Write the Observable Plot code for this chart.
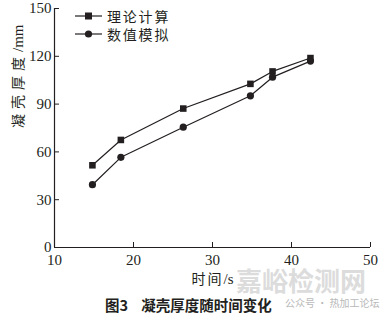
<!DOCTYPE html>
<html><head><meta charset="utf-8">
<script src="https://cdn.jsdelivr.net/npm/d3@7"></script>
<script src="https://cdn.jsdelivr.net/npm/@observablehq/plot@0.6"></script>
<style>
body{margin:0;background:#fff;}
#wrap{position:relative;width:384px;height:317px;overflow:hidden;font-family:"Liberation Serif","DejaVu Serif",serif;color:#231f20;}
#legend{position:absolute;left:75px;top:7px;font-family:"Noto Sans CJK SC",sans-serif;font-size:14px;letter-spacing:1.8px;line-height:18px;}
#legend div{display:flex;align-items:center;height:18px;}
#caption{position:absolute;left:105px;top:294px;font-family:"Noto Sans CJK SC",sans-serif;font-weight:bold;font-size:14.5px;white-space:pre;color:#231f20;}
#wm{position:absolute;left:236px;top:267px;font-family:"Noto Sans CJK SC",sans-serif;font-weight:bold;font-size:26px;line-height:26px;color:#dcdcdc;white-space:nowrap;}
#wm2{position:absolute;left:285px;top:297px;font-family:"Noto Sans CJK SC",sans-serif;font-size:10px;line-height:11px;color:#b8b8b8;white-space:nowrap;}
#chart{position:absolute;left:0;top:0;}
svg text.num{font-family:"Liberation Serif","DejaVu Serif",serif !important;}
</style></head>
<body><div id="wrap">
<div id="wm">嘉峪检测网</div>
<div id="wm2">公众号 · 热加工论坛</div>
<div id="chart"></div>
<div id="legend"></div>
<div id="caption"></div>
</div>
<script>
const time = [14.8, 18.4, 26.3, 34.8, 37.6, 42.4];
const theory = [51.6, 67.5, 87.2, 102.7, 110.5, 118.9];
const simulation = [39.4, 56.6, 75.5, 95.2, 106.9, 117.0];
const seriesNames = ["理论计算", "数值模拟"];
const xTicks = [10, 20, 30, 40, 50];
const yTicks = [0, 30, 60, 90, 120, 150];
const xLabelMain = "时间", xLabelUnit = "/s";
const yLabelMain = "凝壳厚度", yLabelUnit = "/mm";
const captionText = "图3    凝壳厚度随时间变化";

const ink = "#231f20";
const serif = "Liberation Serif, DejaVu Serif, serif";
const cjk = "Noto Sans CJK SC, sans-serif";
const data = [
  ...time.map((t, i) => ({t, v: theory[i], s: seriesNames[0]})),
  ...time.map((t, i) => ({t, v: simulation[i], s: seriesNames[1]}))
];

const plot = Plot.plot({
  width: 384,
  height: 293,
  marginLeft: 54,
  marginRight: 14,
  marginTop: 8,
  marginBottom: 46,
  style: {fontFamily: serif, fontSize: "15px", color: ink, background: "transparent"},
  x: {domain: [10, 50]},
  y: {domain: [0, 150]},
  marks: [
    Plot.axisX({ticks: xTicks, tickSize: -5, tickPadding: 12, tickFormat: d => d, stroke: ink, fill: ink, fontSize: 15, label: null, className: "xax"}),
    Plot.axisY({ticks: yTicks, tickSize: -5, tickPadding: 8, tickFormat: d => d, stroke: ink, fill: ink, fontSize: 15, label: null, className: "yax"}),
    Plot.ruleX([10], {stroke: ink, strokeWidth: 1.2}),
    Plot.ruleY([0], {stroke: ink, strokeWidth: 1.2}),
    Plot.line(data, {x: "t", y: "v", z: "s", stroke: ink, strokeWidth: 1.2}),
    Plot.dot(data.filter(d => d.s === seriesNames[0]), {x: "t", y: "v", symbol: "square", r: 3.7, fill: ink, stroke: "none"}),
    Plot.dot(data.filter(d => d.s === seriesNames[1]), {x: "t", y: "v", symbol: "circle", r: 3.6, fill: ink, stroke: "none"}),
    Plot.text([xLabelMain], {frameAnchor: "bottom", dy: 36, text: d => d, fontSize: 14, fill: ink, className: "xlab"}),
    Plot.text([yLabelMain], {frameAnchor: "left", dx: -36, rotate: -90, text: d => d, fontSize: 14, fill: ink, className: "ylab"})
  ]
});
const svg = d3.select(plot);
svg.selectAll("text").classed("num", true);
function twoPart(sel, main, unit, spacing) {
  sel.each(function() {
    const t = d3.select(this);
    t.classed("num", false).text(null);
    t.append("tspan").style("font-family", cjk).style("letter-spacing", spacing).text(main);
    t.append("tspan").attr("class", "num").style("font-family", serif).style("font-size", "15px").text(unit);
  });
}
twoPart(svg.selectAll(".xlab text"), xLabelMain, xLabelUnit, "2px");
twoPart(svg.selectAll(".ylab text"), yLabelMain, yLabelUnit, "5px");
document.getElementById("chart").appendChild(plot);

const legend = document.getElementById("legend");
seriesNames.forEach((name, i) => {
  const row = document.createElement("div");
  const sym = i === 0
    ? `<rect x="10" y="5.5" width="7" height="7" fill="${ink}"/>`
    : `<circle cx="13.5" cy="9" r="3.6" fill="${ink}"/>`;
  row.innerHTML = `<svg width="32" height="18" style="display:block"><line x1="0" x2="27" y1="9" y2="9" stroke="${ink}" stroke-width="1.2"/>${sym}</svg><span>${name}</span>`;
  legend.appendChild(row);
});
document.getElementById("caption").textContent = captionText;
</script></body></html>
